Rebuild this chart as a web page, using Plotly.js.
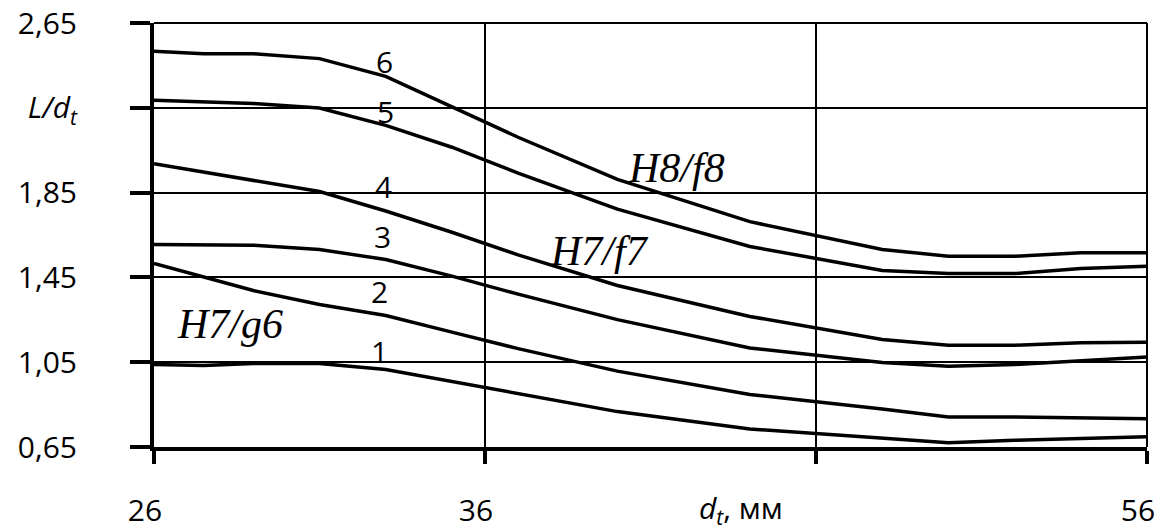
<!DOCTYPE html>
<html>
<head>
<meta charset="utf-8">
<script src="https://cdn.plot.ly/plotly-3.0.1.min.js"></script>
<style>
  html, body { margin: 0; padding: 0; background: #ffffff; }
  #chart { width: 1165px; height: 527px; }
</style>
</head>
<body>
<div id="chart"></div>
<script>
// Shaft diameter d_t, mm
const dt = [26, 27.5, 29, 31, 33, 35, 37, 40, 44, 48, 50, 52, 54, 56];

// Relative length L/d_t for curves 1..6
const curve1 = [1.039, 1.034, 1.044, 1.044, 1.016, 0.960, 0.902, 0.817, 0.735, 0.692, 0.670, 0.682, 0.690, 0.698];
const curve2 = [1.516, 1.454, 1.388, 1.322, 1.270, 1.192, 1.114, 1.008, 0.898, 0.829, 0.792, 0.792, 0.788, 0.783];
const curve3 = [1.605, 1.604, 1.602, 1.582, 1.534, 1.456, 1.371, 1.251, 1.117, 1.049, 1.031, 1.039, 1.055, 1.075];
const curve4 = [1.986, 1.947, 1.909, 1.855, 1.763, 1.663, 1.556, 1.412, 1.266, 1.157, 1.130, 1.130, 1.142, 1.144];
const curve5 = [2.286, 2.280, 2.270, 2.249, 2.167, 2.064, 1.942, 1.772, 1.596, 1.483, 1.468, 1.468, 1.492, 1.503];
const curve6 = [2.517, 2.505, 2.505, 2.482, 2.398, 2.256, 2.111, 1.912, 1.713, 1.582, 1.550, 1.550, 1.566, 1.566];

const curveNames = ['1', '2', '3', '4', '5', '6'];
const curves = [curve1, curve2, curve3, curve4, curve5, curve6];

// Curve number labels (d_t, L/d_t)
const numberLabelX = [32.82, 32.82, 32.9, 32.93, 32.98, 32.96];
const numberLabelY = [1.102, 1.382, 1.644, 1.878, 2.234, 2.470];

// Fit designations
const fitNames = ['H7/g6', 'H7/f7', 'H8/f8'];
const fitX = [28.3, 39.45, 41.8];
const fitY = [1.228, 1.574, 1.964];

// Axis ticks (46 keeps its tick mark and grid line but has no number)
const xTickVals = [26, 36, 56];
const xTickText = ['26', '36', '56'];
const xUnlabeledTicks = [46];
const yTickVals = [0.65, 1.05, 1.45, 1.85, 2.25, 2.65];
const yTickText = ['0,65', '1,05', '1,45', '1,85', '<i>L/d<sub>t</sub></i>', '2,65'];

const labelFont = { family: 'Open Sans, sans-serif', size: 30, color: '#000' };

const traces = curves.map((ys, i) => ({
  x: dt,
  y: ys,
  name: curveNames[i],
  type: 'scatter',
  mode: 'lines',
  line: { color: '#000', width: 3.5, shape: 'linear' },
  hoverinfo: 'skip'
}));

const annotations = [];
curveNames.forEach((n, i) => {
  annotations.push({
    x: numberLabelX[i], y: numberLabelY[i], xref: 'x', yref: 'y',
    text: n, showarrow: false, xanchor: 'center', yanchor: 'middle',
    font: labelFont
  });
});
fitNames.forEach((n, i) => {
  annotations.push({
    x: fitX[i], y: fitY[i], xref: 'x', yref: 'y',
    text: '<i>' + n + '</i>', showarrow: false, xanchor: 'center', yanchor: 'middle',
    font: { family: 'Liberation Serif, Times New Roman, serif', size: 42, color: '#000' }
  });
});
// x-axis caption placed in the tick label row
annotations.push({
  x: 43.72, y: -0.147, xref: 'x', yref: 'paper',
  text: '<i>d<sub>t</sub></i>, мм', showarrow: false,
  xanchor: 'center', yanchor: 'middle', font: labelFont
});

// Thin frame along the top and right edges of the plot area
const shapes = [
  { type: 'line', xref: 'paper', yref: 'paper', x0: 0, x1: 1, y0: 1, y1: 1,
    line: { color: '#000', width: 2 } },
  { type: 'line', xref: 'paper', yref: 'paper', x0: 1, x1: 1, y0: 0, y1: 1,
    line: { color: '#000', width: 2 } }
];

const layout = {
  width: 1165,
  height: 527,
  margin: { l: 154, r: 18, t: 23, b: 80 },
  paper_bgcolor: '#fff',
  plot_bgcolor: '#fff',
  showlegend: false,
  font: labelFont,
  xaxis: {
    range: [26, 56],
    tickmode: 'array',
    tickvals: xTickVals,
    ticktext: xTickText,
    ticks: 'outside',
    ticklen: 13,
    tickwidth: 4,
    tickcolor: '#000',
    showline: true,
    linewidth: 4,
    linecolor: '#000',
    showgrid: true,
    gridcolor: '#000',
    gridwidth: 2,
    zeroline: false,
    minor: {
      tickmode: 'array',
      tickvals: xUnlabeledTicks,
      ticks: 'outside',
      ticklen: 13,
      tickwidth: 4,
      tickcolor: '#000',
      showgrid: true,
      gridcolor: '#000',
      gridwidth: 2
    },
    ticklabelstandoff: 21,
    ticklabelshift: -9,
    tickfont: labelFont,
    fixedrange: true
  },
  yaxis: {
    range: [0.65, 2.65],
    tickmode: 'array',
    tickvals: yTickVals,
    ticktext: yTickText,
    ticks: 'outside',
    ticklen: 20,
    tickwidth: 4,
    tickcolor: '#000',
    showline: true,
    linewidth: 4,
    linecolor: '#000',
    showgrid: true,
    gridcolor: '#000',
    gridwidth: 2,
    zeroline: false,
    ticklabelstandoff: 47,
    tickfont: labelFont,
    fixedrange: true
  },
  shapes: shapes,
  annotations: annotations
};

Plotly.newPlot('chart', traces, layout, { displayModeBar: false, staticPlot: true });
</script>
</body>
</html>
